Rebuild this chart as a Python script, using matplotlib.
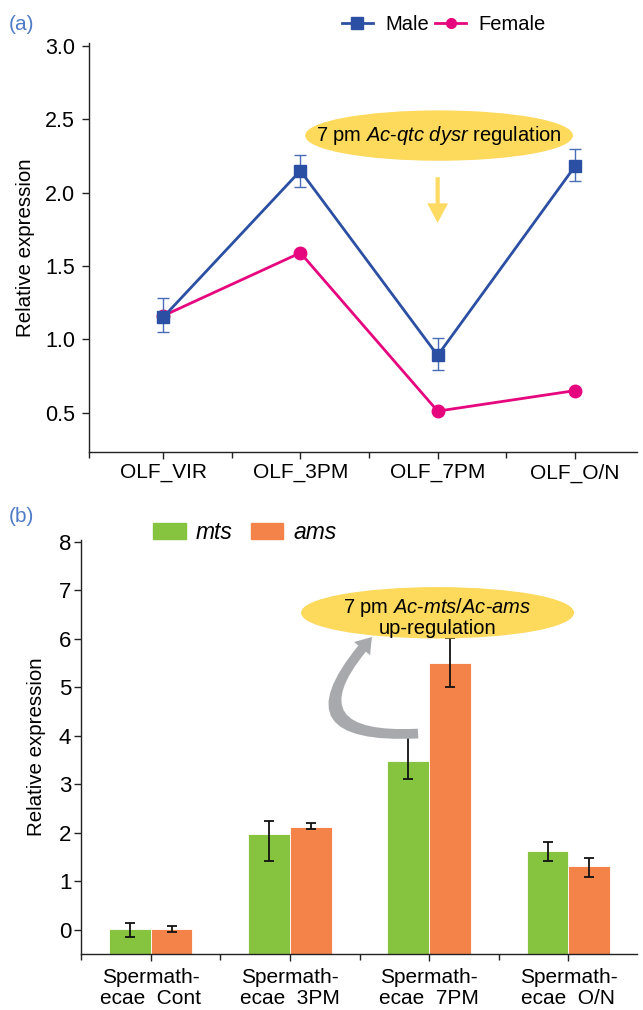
import numpy as np
import matplotlib
matplotlib.use("Agg")
import matplotlib.pyplot as plt
from matplotlib.lines import Line2D
from matplotlib.patches import Ellipse, Patch, FancyArrowPatch

plt.rcParams["font.family"] = ["Liberation Sans", "DejaVu Sans"]
plt.rcParams["mathtext.fontset"] = "custom"
plt.rcParams["mathtext.rm"] = "Liberation Sans"
plt.rcParams["mathtext.it"] = "Liberation Sans:italic"

# (a) olfactory tissue, male vs female
olf_labels = ["OLF_VIR", "OLF_3PM", "OLF_7PM", "OLF_O/N"]
male_mean = [1.15, 2.15, 0.89, 2.18]
male_err_low = [0.10, 0.11, 0.10, 0.10]
male_err_high = [0.13, 0.11, 0.12, 0.12]
female_mean = [1.16, 1.59, 0.51, 0.65]

# (b) spermathecae, mts vs ams
sperm_labels = ["Spermath-\necae  Cont", "Spermath-\necae  3PM",
                "Spermath-\necae  7PM", "Spermath-\necae  O/N"]
mts_mean = [0.03, 1.98, 3.48, 1.63]
mts_err_low = [0.17, 0.55, 0.36, 0.20]
mts_err_high = [0.11, 0.27, 0.49, 0.18]
ams_mean = [0.03, 2.12, 5.50, 1.32]
ams_err_low = [0.07, 0.04, 0.48, 0.22]
ams_err_high = [0.05, 0.08, 0.51, 0.16]

BLUE = "#2B4FA2"
PINK = "#E6077F"
GREEN = "#86C440"
ORANGE = "#F4834A"
YELLOW = "#FDD95C"
GREY = "#A7A9AC"
PANEL = "#4F7CC8"
AXC = "#222222"

FS = 15

fig = plt.figure(figsize=(6.43, 10.10), dpi=100)


def style_axes(ax):
    for s in ["top", "right"]:
        ax.spines[s].set_visible(False)
    for s in ["left", "bottom"]:
        ax.spines[s].set_color(AXC)
        ax.spines[s].set_linewidth(1.0)
    ax.tick_params(which="both", direction="out", color=AXC, width=1.0)
    ax.tick_params(which="major", length=5)
    ax.tick_params(which="minor", length=4)
    ax.tick_params(axis="x", labelsize=FS, pad=3)


# ---------- panel (a) ----------
ax1 = fig.add_axes([0.1384, 0.5523, 0.8518, 0.4049])
x = np.arange(len(olf_labels))
ax1.plot(x, female_mean, color=PINK, lw=2, marker="o", ms=9, zorder=3)
ax1.errorbar(x, male_mean, yerr=[male_err_low, male_err_high], color=BLUE,
             lw=2, marker="s", ms=9, ecolor="#4A6BB5", elinewidth=1,
             capsize=4, capthick=1, zorder=4)
ax1.set_xlim(-0.54, 3.45)
ax1.set_ylim(0.23, 3.02)
ax1.set_xticks(x)
ax1.set_xticklabels(olf_labels)
ax1.set_xticks([ax1.get_xlim()[0], 0.5, 1.5, 2.5], minor=True)
ax1.set_yticks([0.5, 1.0, 1.5, 2.0, 2.5, 3.0])
ax1.set_yticklabels(["%.1f" % v for v in ax1.get_yticks()], fontsize=15.5)
style_axes(ax1)
ax1.tick_params(axis="y", pad=5)
ax1.set_ylabel("Relative expression", fontsize=14.8, labelpad=7)

# annotation balloon and arrow
ax1.add_patch(Ellipse((2.01, 2.39), 1.94, 0.334, color=YELLOW, zorder=5))
ax1.text(2.01, 2.39, "7 pm $Ac$-$qtc$ $dysr$ regulation", fontsize=14.5,
         ha="center", va="center", zorder=6)
ax1.add_patch(FancyArrowPatch((2, 2.106), (2, 1.795),
                              arrowstyle="simple,head_length=14,head_width=15,tail_width=3",
                              mutation_scale=1, shrinkA=0, shrinkB=0,
                              color="#FDDA62", lw=0, zorder=5))

legend_a = [Line2D([], [], color=BLUE, lw=2, marker="s", ms=8),
            Line2D([], [], color=PINK, lw=2, marker="o", ms=7)]
fig.legend(legend_a, ["Male", "Female"], loc="center left",
           bbox_to_anchor=(0.516, 0.976), ncol=2, frameon=False,
           fontsize=14.5, borderpad=0, handlelength=1.55, handletextpad=0.6,
           columnspacing=0.3)

fig.text(0.014, 0.976, "(a)", color=PANEL, fontsize=15, va="center")

# ---------- panel (b) ----------
ax2 = fig.add_axes([0.126, 0.0552, 0.8642, 0.4106])
BASE = -0.5
xb = np.arange(len(sperm_labels))
w = 0.3
ax2.bar(xb - w / 2, np.array(mts_mean) - BASE, w, bottom=BASE, color=GREEN,
        edgecolor="white", linewidth=0.6, zorder=2)
ax2.bar(xb + w / 2, np.array(ams_mean) - BASE, w, bottom=BASE, color=ORANGE,
        edgecolor="white", linewidth=0.6, zorder=2)
ax2.errorbar(xb - w / 2, mts_mean, yerr=[mts_err_low, mts_err_high], fmt="none",
             ecolor="#111111", elinewidth=1.3, capsize=3.5, capthick=1.3, zorder=3)
ax2.errorbar(xb + w / 2, ams_mean, yerr=[ams_err_low, ams_err_high], fmt="none",
             ecolor="#111111", elinewidth=1.3, capsize=3.5, capthick=1.3, zorder=3)
ax2.set_xlim(-0.5, 3.49)
ax2.set_ylim(BASE, 8.05)
ax2.set_xticks(xb)
ax2.set_xticklabels(sperm_labels, linespacing=1.1)
ax2.set_xticks([ax2.get_xlim()[0], 0.5, 1.5, 2.5], minor=True)
ax2.set_yticks(range(0, 9))
ax2.set_yticklabels([str(v) for v in range(0, 9)], fontsize=16)
style_axes(ax2)
ax2.tick_params(axis="y", pad=2)
ax2.tick_params(axis="x", pad=5)
ax2.set_ylabel("Relative expression", fontsize=14.8, labelpad=9)

ax2.add_patch(Ellipse((2.06, 6.54), 1.95, 1.03, color=YELLOW, zorder=5))
ax2.text(2.06, 6.45, "7 pm $Ac$-$mts$/$Ac$-$ams$\nup-regulation", fontsize=14.5,
         ha="center", va="center", linespacing=1.0, zorder=6)
ax2.add_patch(FancyArrowPatch((1.92, 4.05), (1.59, 6.04),
                              connectionstyle="arc3,rad=-1.2",
                              arrowstyle="simple,head_length=11,head_width=15,tail_width=7",
                              mutation_scale=1, shrinkA=0, shrinkB=0,
                              color=GREY, lw=0, zorder=4))

legend_b = [Patch(color=GREEN), Patch(color=ORANGE)]
fig.legend(legend_b, ["mts", "ams"], loc="center left",
           bbox_to_anchor=(0.2208, 0.4723), ncol=2, frameon=False,
           prop={"size": 16.5, "style": "italic"}, borderpad=0,
           handlelength=1.4, handleheight=0.7, handletextpad=0.43,
           columnspacing=0.83)

fig.text(0.014, 0.489, "(b)", color=PANEL, fontsize=15, va="center")

fig.savefig("out.png", dpi=100)
